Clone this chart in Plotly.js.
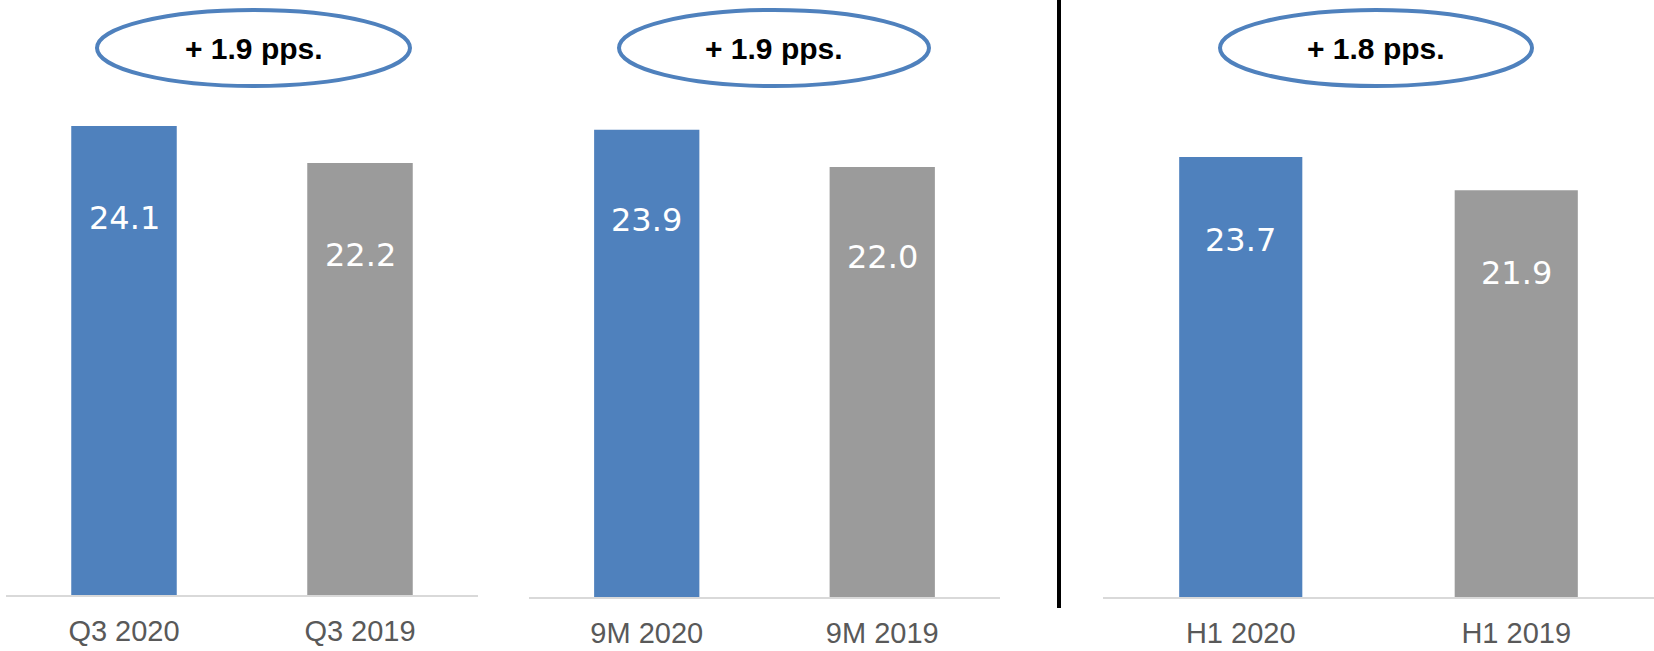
<!DOCTYPE html>
<html>
<head>
<meta charset="utf-8">
<script src="https://cdn.plot.ly/plotly-3.0.1.min.js"></script>
<style>html,body{margin:0;padding:0;background:#fff;}#chart{width:1654px;height:651px;}</style>
</head>
<body>
<div id="chart"></div>
<script>
// Data
const catsQ3 = ['Q3 2020', 'Q3 2019'];
const valsQ3 = [24.1, 22.2];
const cats9M = ['9M 2020', '9M 2019'];
const vals9M = [23.9, 22.0];
const catsH1 = ['H1 2020', 'H1 2019'];
const valsH1 = [23.7, 21.9];
const changeLabels = ['+ 1.9 pps.', '+ 1.9 pps.', '+ 1.8 pps.'];

const W = 1654, H = 651;
const BLUE = '#4f81bd', GREY = '#9b9b9b';
const FONT = 'Liberation Sans, Arial, sans-serif';
const VFONT = 'DejaVu Sans, Liberation Sans, sans-serif';
const colors = [BLUE, GREY];

const panels = [
  {cats: catsQ3, vals: valsQ3, xa: 'x', ya: 'y', dom: [6, 478], base: 595, ppu: 19.46, shift: -92, ell: [97, 410]},
  {cats: cats9M, vals: vals9M, xa: 'x2', ya: 'y2', dom: [529, 1000], base: 597, ppu: 19.55, shift: -90, ell: [619, 929]},
  {cats: catsH1, vals: valsH1, xa: 'x3', ya: 'y3', dom: [1103, 1654], base: 597, ppu: 18.57, shift: -83, ell: [1220, 1532]}
];

const traces = panels.map(p => ({
  type: 'bar', x: p.cats, y: p.vals, xaxis: p.xa, yaxis: p.ya,
  marker: {color: colors}, width: 0.447, hoverinfo: 'skip', showlegend: false
}));

const layout = {
  width: W, height: H, margin: {l: 0, r: 0, t: 0, b: 0},
  paper_bgcolor: '#fff', plot_bgcolor: 'rgba(0,0,0,0)',
  showlegend: false, annotations: [], shapes: []
};

panels.forEach((p, i) => {
  const sx = i === 0 ? '' : String(i + 1);
  layout['xaxis' + sx] = {
    domain: [p.dom[0] / W, p.dom[1] / W], anchor: 'y' + sx,
    type: 'category', range: [-0.5, 1.5],
    showline: true, linecolor: '#d9d9d9', linewidth: 2,
    showgrid: false, zeroline: false, ticks: '',
    tickfont: {family: FONT, size: 29, color: '#595959'},
    ticklabelstandoff: 9, fixedrange: true
  };
  layout['yaxis' + sx] = {
    domain: [(H - p.base) / H, 1], anchor: 'x' + sx,
    range: [0, p.base / p.ppu], visible: false, fixedrange: true
  };
  p.cats.forEach((c, j) => {
    layout.annotations.push({
      x: c, y: p.vals[j], xref: p.xa, yref: p.ya,
      text: p.vals[j].toFixed(1), showarrow: false,
      yanchor: 'middle', yshift: p.shift,
      font: {family: VFONT, size: 32, color: '#ffffff'}
    });
  });
  // ellipse + change label
  const cx = (p.ell[0] + p.ell[1]) / 2;
  layout.shapes.push({
    type: 'circle', xref: 'paper', yref: 'paper',
    x0: p.ell[0] / W, x1: p.ell[1] / W,
    y0: 1 - 86 / H, y1: 1 - 10 / H,
    line: {color: BLUE, width: 4}, fillcolor: 'rgba(0,0,0,0)'
  });
  layout.annotations.push({
    x: cx / W, y: 1 - 48 / H, xref: 'paper', yref: 'paper',
    text: changeLabels[i], showarrow: false, xanchor: 'center', yanchor: 'middle',
    font: {family: FONT, size: 30, color: '#000000', weight: 600}
  });
});

// vertical divider
layout.shapes.push({
  type: 'line', xref: 'paper', yref: 'paper',
  x0: 1059 / W, x1: 1059 / W, y0: 1 - 608 / H, y1: 1,
  line: {color: '#000000', width: 4}
});

Plotly.newPlot('chart', traces, layout, {displayModeBar: false, staticPlot: true});
</script>
</body>
</html>
